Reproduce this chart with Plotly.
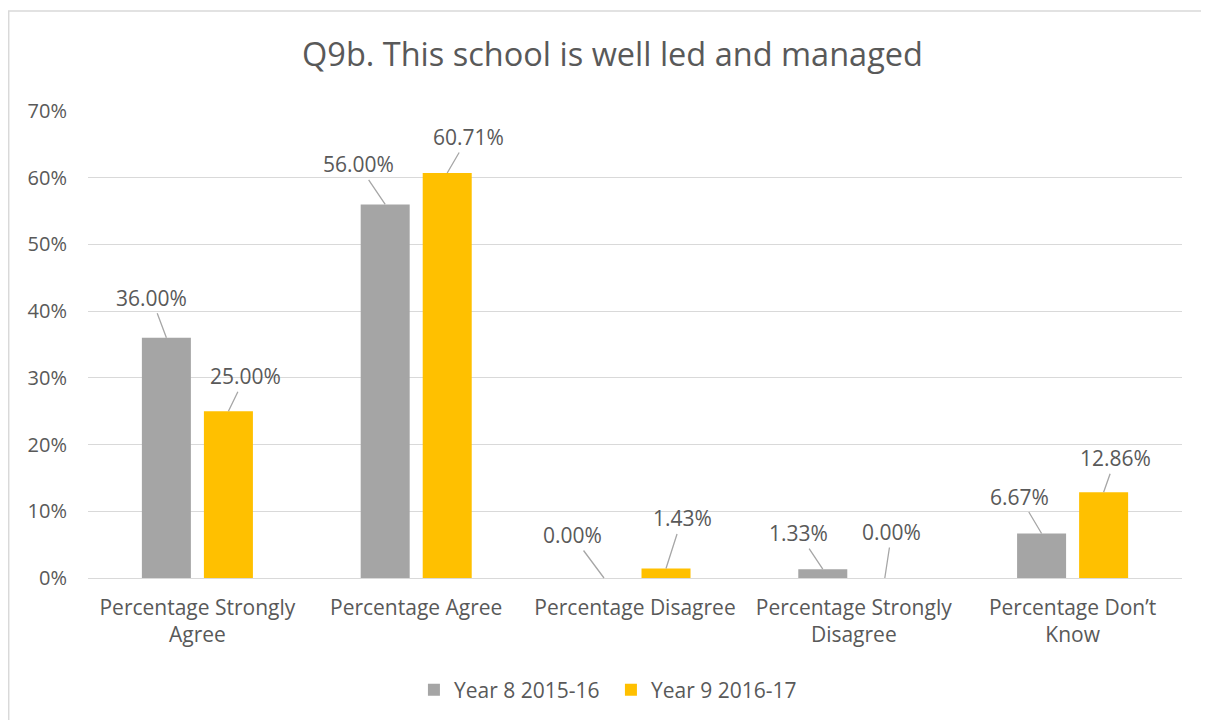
import plotly.graph_objects as go

categories = ["Percentage Strongly<br>Agree", "Percentage Agree", "Percentage Disagree",
              "Percentage Strongly<br>Disagree", "Percentage Don’t<br>Know"]
series_names = ["Year 8 2015-16", "Year 9 2016-17"]
year8 = [36.00, 56.00, 0.00, 1.33, 6.67]
year9 = [25.00, 60.71, 1.43, 0.00, 12.86]
tick_vals = [0, 10, 20, 30, 40, 50, 60, 70]
tick_text = ["0%", "10%", "20%", "30%", "40%", "50%", "60%", "70%"]

colors = ["#A5A5A5", "#FFC000"]
# label offsets in pixels (text centre relative to bar top)
off8 = [(-15, -40), (-27, -40), (-32, -43), (-24, -36), (-22, -37)]
off9 = [(17, -35), (21, -36), (16, -50), (7, -46), (12, -34)]

FONT = "Open Sans"
TXT = "#595959"

fig = go.Figure()
for name, vals, col in zip(series_names, [year8, year9], colors):
    fig.add_trace(go.Bar(x=categories, y=vals, name=name, marker_color=col,
                         marker_line_width=0))

annotations = []
for i, cat in enumerate(categories):
    for vals, offs, shift in [(year8, off8, -0.1417), (year9, off9, 0.1417)]:
        annotations.append(dict(
            x=i + shift, y=vals[i], xref="x", yref="y",
            text=f"{vals[i]:.2f}%", showarrow=True, arrowhead=0,
            arrowwidth=1.3, arrowcolor="#A6A6A6",
            ax=offs[i][0], ay=offs[i][1],
            font=dict(family=FONT, size=21, color=TXT)))

fig.update_layout(
    width=1209, height=720,
    margin=dict(l=80, r=35, t=103, b=150),
    paper_bgcolor="white", plot_bgcolor="white",
    title=dict(text="Q9b. This school is well led and managed", x=0.5, xanchor="center",
               y=1 - 47 / 720, yanchor="middle",
               font=dict(family=FONT, size=32.5, color=TXT)),
    barmode="group", bargap=0.433, bargroupgap=0.21,
    showlegend=True,
    legend=dict(orientation="h", x=0.478, xanchor="center", y=-0.24, yanchor="middle",
                font=dict(family=FONT, size=21, color=TXT), itemwidth=30,
                entrywidth=152),
    annotations=annotations,
    shapes=[dict(type="rect", xref="paper", yref="paper", x0=-0.0725, x1=1.2,
                 y0=-0.5, y1=1.214, line=dict(color="#D9D9D9", width=1.5),
                 fillcolor="rgba(0,0,0,0)", layer="below")],
)
fig.update_yaxes(range=[0, 70], tickvals=tick_vals, ticktext=tick_text,
                 showgrid=True, gridcolor="#D9D9D9", gridwidth=1.3,
                 zeroline=True, zerolinecolor="#D9D9D9", zerolinewidth=1.3,
                 showline=False, ticklabelstandoff=20,
                 tickfont=dict(family=FONT, size=20, color=TXT))
fig.update_xaxes(showline=False, showgrid=False, ticklabelstandoff=15,
                 tickfont=dict(family=FONT, size=21, color=TXT))

fig.write_html("out.html")
